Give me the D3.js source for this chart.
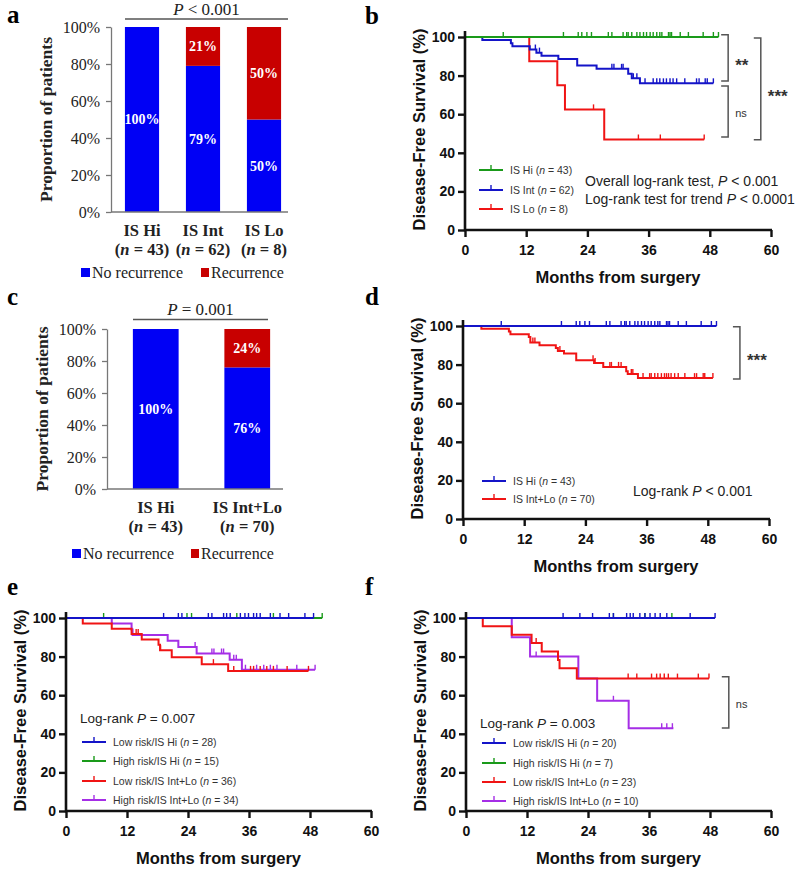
<!DOCTYPE html>
<html>
<head>
<meta charset="utf-8">
<script src="https://d3js.org/d3.v7.min.js"></script>
<style>
body { margin: 0; background: #fff; }
</style>
</head>
<body>
<svg width="800" height="869"></svg>
<script>

// ---- data: bar panels (a, c) ----
var aCats = ["IS Hi", "IS Int", "IS Lo"],
    aN = [43, 62, 8],
    aNoRec = [100, 79, 50],
    aRec = [0, 21, 50];

var cCats = ["IS Hi", "IS Int+Lo"],
    cN = [43, 70],
    cNoRec = [100, 76],
    cRec = [0, 24];

var pctTicks = [0, 20, 40, 60, 80, 100];
var monthTicks = [0, 12, 24, 36, 48, 60];
var dfsTicks = [0, 20, 40, 60, 80, 100];

// ---- data: KM curves, steps are [month, survival %] ----
// IS Hi (n = 43), same group in b and d
var hiCensor = [7.5, 19.3, 22.2, 22.9, 23.9, 24.8, 28.1, 28.8, 31.0, 31.7, 32.0, 32.7, 33.7, 34.3, 35.0, 35.6,
                36.3, 36.9, 37.6, 38.2, 38.6, 39.9, 40.2, 40.5, 42.2, 43.8, 46.7, 48.7, 49.7];
var hiEnd = 49.7;

// b: IS Int (n = 62)
var bIntSteps = [[3.4, 98.4], [9.0, 96.8], [9.3, 95.2], [12.7, 93.5], [14.0, 91.9], [15.0, 90.3], [18.3, 88.6],
                 [22.0, 85.2], [25.8, 83.5], [32.0, 80.9], [32.7, 78.6], [34.3, 76.0]];
var bIntCensor = [13.8, 14.6, 28.8, 29.2, 30.7, 31.0, 33.0, 33.7, 35.3, 36.9, 37.6, 38.2, 38.9, 39.5, 40.2,
                  40.8, 41.5, 43.1, 45.4, 45.9, 47.1, 47.5, 48.7];
var bIntEnd = 48.7;
// b: IS Lo (n = 8)
var bLoSteps = [[12.6, 87.5], [18.1, 75.0], [19.6, 62.5], [27.3, 46.9]];
var bLoCensor = [25.2, 34.0, 38.3, 46.9];
var bLoEnd = 46.9;

// d: IS Int+Lo (n = 70)
var dIntLoSteps = [[3.6, 98.6], [9.0, 97.1], [9.3, 95.7], [12.9, 94.3], [13.2, 91.4], [15.0, 90.0], [18.2, 88.6],
                   [18.6, 87.1], [19.8, 85.7], [22.2, 82.3], [25.7, 80.8], [27.5, 78.8], [32.0, 76.5], [32.3, 75.1],
                   [34.3, 73.0]];
var dIntLoCensor = [13.7, 14.1, 19.0, 25.5, 25.9, 28.8, 29.1, 30.5, 31.0, 33.0, 33.3, 35.3, 36.6, 36.9, 37.6,
                    38.2, 38.9, 39.5, 39.9, 40.3, 40.8, 41.5, 42.2, 43.5, 45.4, 45.8, 47.1, 47.4, 49.0];
var dIntLoEnd = 49.0;

// e
var eLowHiCensor = [19.2, 22.1, 22.8, 28.0, 28.7, 31.0, 31.6, 32.3, 34.3, 35.2, 35.9, 36.9, 37.5, 38.2, 40.2,
                    42.1, 43.8, 47.0, 48.7];
var eLowHiEnd = 48.7;
var eHighHiCensor = [7.4, 23.8, 24.7, 33.6, 40.8, 50.4];
var eHighHiEnd = 50.4;
var eLowIntSteps = [[3.3, 97.2], [9.0, 94.4], [12.9, 91.7], [14.9, 88.9], [18.2, 86.1], [18.5, 83.3],
                    [20.8, 79.6], [26.7, 76.1], [31.9, 72.6]];
var eLowIntCensor = [13.8, 14.2, 18.6, 29.0, 33.0, 36.3, 36.9, 38.2, 39.5, 40.8, 43.5, 47.7];
var eLowIntEnd = 47.7;
var eHighIntSteps = [[9.0, 97.1], [12.9, 94.1], [13.1, 91.2], [20.0, 88.2], [22.1, 85.0], [25.7, 81.6],
                     [32.2, 78.4], [34.6, 73.2]];
var eHighIntCensor = [25.4, 28.7, 29.1, 30.6, 31.0, 33.0, 33.5, 35.3, 37.5, 38.9, 40.2, 41.5, 45.4, 49.0];
var eHighIntEnd = 49.0;

// f
var fLowHiCensor = [19.1, 22.4, 24.9, 28.2, 29.0, 31.6, 32.3, 32.9, 34.2, 35.2, 36.2, 37.2, 38.2, 39.5,
                    44.1, 49.0];
var fLowHiEnd = 49.0;
var fHighHiCensor = [29.0, 35.2, 40.5];
var fHighHiEnd = 40.7;
var fLowIntSteps = [[3.3, 95.7], [9.0, 91.3], [12.9, 87.0], [14.9, 82.6], [18.1, 78.3], [18.4, 73.9], [21.8, 68.6]];
var fLowIntCensor = [13.8, 31.9, 33.6, 36.5, 37.5, 38.2, 39.0, 39.8, 41.6, 45.7, 47.8];
var fLowIntEnd = 47.8;
var fHighIntSteps = [[9.0, 90.0], [12.6, 80.0], [22.1, 68.6], [25.8, 57.1], [32.0, 42.9]];
var fHighIntCensor = [13.8, 29.0, 38.5, 39.5, 40.6];
var fHighIntEnd = 40.8;

var SANS = "'Liberation Sans', Arial, sans-serif",
    SERIF = "'Liberation Serif', 'Times New Roman', serif";
var BAR_BLUE = "#0000f5", BAR_RED = "#c80000";
var KM_GREEN = "#1a9a1a", KM_BLUE = "#1414c8", KM_RED = "#f01414", KM_PURPLE = "#a52ee6";

var svg = d3.select("svg");

function nText(sel, pre, n, post) {
  sel.append("tspan").text(pre);
  sel.append("tspan").attr("font-style", "italic").text("n");
  sel.append("tspan").text(" = " + n + (post || ""));
}

function panelLabel(txt, x, y) {
  svg.append("text").attr("x", x).attr("y", y)
      .attr("font-family", SERIF).attr("font-weight", "bold").attr("font-size", 25)
      .text(txt);
}

// ---------- stacked bar panel ----------
function barPanel(o) {
  var g = svg.append("g");
  var x = d3.scaleBand().domain(o.cats).range(o.xr).paddingInner(o.pad).paddingOuter(o.pad / 2);
  var y = d3.scaleLinear().domain([0, 100]).range(o.yr);
  var rows = o.cats.map(function(c, i) { return {cat: c, n: o.n[i], no: o.noRec[i], rec: o.rec[i]}; });

  g.selectAll(".no").data(rows).join("rect")
      .attr("x", function(d) { return x(d.cat); })
      .attr("width", x.bandwidth())
      .attr("y", function(d) { return y(d.no); })
      .attr("height", function(d) { return y(0) - y(d.no); })
      .attr("fill", BAR_BLUE);
  g.selectAll(".rec").data(rows.filter(function(d) { return d.rec > 0; })).join("rect")
      .attr("x", function(d) { return x(d.cat); })
      .attr("width", x.bandwidth())
      .attr("y", function(d) { return y(d.no + d.rec); })
      .attr("height", function(d) { return y(d.no) - y(d.no + d.rec); })
      .attr("fill", BAR_RED);

  // value labels in the middle of each segment
  var lab = g.append("g").attr("font-family", SERIF).attr("font-weight", "bold")
      .attr("font-size", 14).attr("fill", "#fff").attr("text-anchor", "middle");
  lab.selectAll(".nl").data(rows).join("text")
      .attr("x", function(d) { return x(d.cat) + x.bandwidth() / 2; })
      .attr("y", function(d) { return y(d.no / 2); })
      .attr("dy", "0.35em")
      .text(function(d) { return d.no + "%"; });
  lab.selectAll(".rl").data(rows.filter(function(d) { return d.rec > 0; })).join("text")
      .attr("x", function(d) { return x(d.cat) + x.bandwidth() / 2; })
      .attr("y", function(d) { return y(d.no + d.rec / 2); })
      .attr("dy", "0.35em")
      .text(function(d) { return d.rec + "%"; });

  var ya = g.append("g").attr("transform", "translate(" + o.axisX + ",0)")
      .call(d3.axisLeft(y).tickValues(pctTicks).tickFormat(function(d) { return d + "%"; })
        .tickSize(5).tickSizeOuter(0).tickPadding(6));
  ya.select(".domain").attr("stroke", "#777").attr("stroke-width", 1.3);
  ya.selectAll(".tick line").attr("stroke", "#777").attr("stroke-width", 1.3);
  ya.selectAll("text").attr("font-family", SERIF).attr("font-size", 16).attr("fill", "#222");

  g.append("line").attr("x1", o.axisX).attr("x2", o.baseEnd)
      .attr("y1", y(0)).attr("y2", y(0)).attr("stroke", "#777").attr("stroke-width", 1.5);

  // category labels
  var cl = g.append("g").attr("font-family", SERIF).attr("font-weight", "bold")
      .attr("font-size", 16.5).attr("fill", "#222").attr("text-anchor", "middle");
  rows.forEach(function(d) {
    var cx = x(d.cat) + x.bandwidth() / 2;
    cl.append("text").attr("x", cx).attr("y", y(0) + 24).text(d.cat);
    nText(cl.append("text").attr("x", cx).attr("y", y(0) + 43), "(", d.n, ")");
  });

  g.append("text").attr("transform", "translate(" + o.titleX + "," + ((o.yr[0] + o.yr[1]) / 2) + ") rotate(-90)")
      .attr("text-anchor", "middle").attr("font-family", SERIF).attr("font-weight", "bold")
      .attr("font-size", 17.5).attr("fill", "#222").text("Proportion of patients");

  // p value
  var pt = g.append("text").attr("x", (o.pLine[0] + o.pLine[1]) / 2).attr("y", o.pY)
      .attr("text-anchor", "middle").attr("font-family", SERIF).attr("font-size", 17).attr("fill", "#222");
  pt.append("tspan").attr("font-style", "italic").text("P");
  pt.append("tspan").text(o.pText);
  g.append("line").attr("x1", o.pLine[0]).attr("x2", o.pLine[1])
      .attr("y1", o.pY + 4.5).attr("y2", o.pY + 4.5).attr("stroke", "#555").attr("stroke-width", 1.5);

  // legend
  var lg = g.append("g").attr("font-family", SERIF).attr("font-size", 16).attr("fill", "#222");
  lg.append("rect").attr("x", o.legX[0]).attr("y", o.legY - 5).attr("width", 9).attr("height", 9).attr("fill", BAR_BLUE);
  lg.append("text").attr("x", o.legX[0] + 11).attr("y", o.legY + 5).text("No recurrence");
  lg.append("rect").attr("x", o.legX[1]).attr("y", o.legY - 5).attr("width", 8).attr("height", 9).attr("fill", BAR_RED);
  lg.append("text").attr("x", o.legX[1] + 10).attr("y", o.legY + 5).text("Recurrence");
}

// ---------- Kaplan-Meier panel ----------
function survAt(steps, t) {
  var s = 100;
  steps.forEach(function(p) { if (p[0] <= t) s = p[1]; });
  return s;
}

function kmPanel(o) {
  var g = svg.append("g");
  var x = d3.scaleLinear().domain([0, 60]).range(o.xr);
  var y = d3.scaleLinear().domain([0, 100]).range(o.yr);
  var line = d3.line().x(function(d) { return x(d[0]); }).y(function(d) { return y(d[1]); })
      .curve(d3.curveStepAfter);

  o.groups.forEach(function(grp) {
    var steps = grp.steps || [];
    var last = steps.length ? steps[steps.length - 1][1] : 100;
    var pts = [[0, 100]].concat(steps).concat([[grp.end, last]]);
    g.append("path").datum(pts).attr("d", line)
        .attr("fill", "none").attr("stroke", grp.color).attr("stroke-width", 2);
    g.selectAll(null).data(grp.censor).join("line")
        .attr("x1", function(c) { return x(c); }).attr("x2", function(c) { return x(c); })
        .attr("y1", function(c) { return y(survAt(steps, c)); })
        .attr("y2", function(c) { return y(survAt(steps, c)) - 5; })
        .attr("stroke", grp.color).attr("stroke-width", 1.4);
  });

  // axes
  var xa = g.append("g").attr("transform", "translate(0," + y(0) + ")")
      .call(d3.axisBottom(x).tickValues(monthTicks).tickSize(7).tickSizeOuter(0).tickPadding(8));
  var ya = g.append("g").attr("transform", "translate(" + x(0) + ",0)")
      .call(d3.axisLeft(y).tickValues(dfsTicks).tickSize(7).tickSizeOuter(0).tickPadding(3));
  [xa, ya].forEach(function(a) {
    a.select(".domain").remove();
    a.selectAll(".tick line").attr("stroke", "#111").attr("stroke-width", 2.4);
    a.selectAll("text").attr("font-family", SANS).attr("font-weight", "bold")
        .attr("font-size", 14).attr("fill", "#111");
  });
  g.append("path")
      .attr("d", "M" + x(0) + "," + (y(100) - 6) + "V" + y(0) + "H" + (x(60) + 1))
      .attr("fill", "none").attr("stroke", "#111").attr("stroke-width", 2.6);

  g.append("text").attr("x", (o.xr[0] + o.xr[1]) / 2).attr("y", y(0) + 53)
      .attr("text-anchor", "middle").attr("font-family", SANS).attr("font-weight", "bold")
      .attr("font-size", 16.5).attr("fill", "#111").text("Months from surgery");
  g.append("text").attr("transform", "translate(" + (x(0) - 46) + "," + ((o.yr[0] + o.yr[1]) / 2 - 4) + ") rotate(-90)")
      .attr("text-anchor", "middle").attr("dy", "0.35em").attr("font-family", SANS).attr("font-weight", "bold")
      .attr("font-size", 16.5).attr("fill", "#111").text("Disease-Free Survival (%)");

  // legend
  var lg = g.append("g").attr("font-family", SANS).attr("font-size", 10.5).attr("fill", "#333");
  o.groups.slice().sort(function(a, b) { return a.order - b.order; }).forEach(function(grp, i) {
    var ly = o.legY[i];
    lg.append("line").attr("x1", o.legX).attr("x2", o.legX + 24).attr("y1", ly).attr("y2", ly)
        .attr("stroke", grp.color).attr("stroke-width", 2);
    lg.append("line").attr("x1", o.legX + 12).attr("x2", o.legX + 12).attr("y1", ly).attr("y2", ly - 5)
        .attr("stroke", grp.color).attr("stroke-width", 1.4);
    nText(lg.append("text").attr("x", o.legX + 31).attr("y", ly + 4), grp.name + " (", grp.n, ")");
  });

  // stats text
  o.stats.forEach(function(s) {
    var t = g.append("text").attr("x", s.x).attr("y", s.y).attr("font-family", SANS)
        .attr("font-size", s.size).attr("fill", "#222");
    t.append("tspan").text(s.pre);
    t.append("tspan").attr("font-style", "italic").text("P");
    t.append("tspan").text(s.post);
  });

  // significance brackets
  (o.brackets || []).forEach(function(b) {
    var X = x(b.m), Y1 = y(b.s1), Y2 = y(b.s2);
    g.append("path").attr("d", "M" + (X - 7) + "," + Y1 + "H" + X + "V" + Y2 + "H" + (X - 7))
        .attr("fill", "none").attr("stroke", "#555").attr("stroke-width", 1.5);
    var star = b.label !== "ns";
    g.append("text").attr("x", X + 7).attr("y", (Y1 + Y2) / 2 + 3 + (star ? 10 : 3))
        .attr("font-family", SANS).attr("font-weight", star ? "bold" : "normal")
        .attr("font-size", star ? 17 : 11).attr("fill", "#333").text(b.label);
  });
}

// ---------- panels ----------
panelLabel("a", 7, 23);
barPanel({cats: aCats, n: aN, noRec: aNoRec, rec: aRec, xr: [111.5, 294.5], pad: 0.44,
  yr: [212, 27], axisX: 111, baseEnd: 288, titleX: 52,
  pLine: [125, 288], pY: 14.5, pText: " < 0.001", legX: [81, 201], legY: 273});

panelLabel("b", 365, 24);
kmPanel({xr: [465, 771], yr: [230, 37],
  groups: [
    {name: "IS Lo", n: 8, color: KM_RED, steps: bLoSteps, censor: bLoCensor, end: bLoEnd, order: 3},
    {name: "IS Int", n: 62, color: KM_BLUE, steps: bIntSteps, censor: bIntCensor, end: bIntEnd, order: 2},
    {name: "IS Hi", n: 43, color: KM_GREEN, steps: [], censor: hiCensor, end: hiEnd, order: 1}
  ],
  legX: 479, legY: [170, 190, 209],
  stats: [
    {x: 585, y: 186, size: 14, pre: "Overall log-rank test,  ", post: " < 0.001"},
    {x: 585, y: 204, size: 14, pre: "Log-rank test for trend ", post: " < 0.0001"}
  ],
  brackets: [
    {m: 51.6, s1: 101.2, s2: 77.2, label: "**"},
    {m: 51.6, s1: 74.6, s2: 48.2, label: "ns"},
    {m: 58.0, s1: 99.5, s2: 46.8, label: "***"}
  ]});

panelLabel("c", 7, 305);
barPanel({cats: cCats, n: cN, noRec: cNoRec, rec: cRec, xr: [110, 293], pad: 0.5,
  yr: [489, 329], axisX: 107, baseEnd: 283, titleX: 48,
  pLine: [133, 268], pY: 315, pText: " = 0.001", legX: [72, 191], legY: 554});

panelLabel("d", 365, 305);
kmPanel({xr: [463, 769], yr: [519, 326],
  groups: [
    {name: "IS Int+Lo", n: 70, color: KM_RED, steps: dIntLoSteps, censor: dIntLoCensor, end: dIntLoEnd, order: 2},
    {name: "IS Hi", n: 43, color: KM_BLUE, steps: [], censor: hiCensor, end: hiEnd, order: 1}
  ],
  legX: 482, legY: [481, 499],
  stats: [{x: 633, y: 496, size: 14, pre: "Log-rank ", post: " < 0.001"}],
  brackets: [{m: 54.3, s1: 99.6, s2: 72.5, label: "***"}]});

panelLabel("e", 7, 595);
kmPanel({xr: [66, 371], yr: [811, 618],
  groups: [
    {name: "High risk/IS Int+Lo", n: 34, color: KM_PURPLE, steps: eHighIntSteps, censor: eHighIntCensor, end: eHighIntEnd, order: 4},
    {name: "Low risk/IS Int+Lo", n: 36, color: KM_RED, steps: eLowIntSteps, censor: eLowIntCensor, end: eLowIntEnd, order: 3},
    {name: "High risk/IS Hi", n: 15, color: KM_GREEN, steps: [], censor: eHighHiCensor, end: eHighHiEnd, order: 2},
    {name: "Low risk/IS Hi", n: 28, color: KM_BLUE, steps: [], censor: eLowHiCensor, end: eLowHiEnd, order: 1}
  ],
  legX: 82, legY: [742, 761, 781, 800],
  stats: [{x: 80, y: 723, size: 13.5, pre: "Log-rank ", post: " = 0.007"}]});

panelLabel("f", 365, 595);
kmPanel({xr: [466, 771], yr: [811, 618],
  groups: [
    {name: "High risk/IS Int+Lo", n: 10, color: KM_PURPLE, steps: fHighIntSteps, censor: fHighIntCensor, end: fHighIntEnd, order: 4},
    {name: "Low risk/IS Int+Lo", n: 23, color: KM_RED, steps: fLowIntSteps, censor: fLowIntCensor, end: fLowIntEnd, order: 3},
    {name: "High risk/IS Hi", n: 7, color: KM_GREEN, steps: [], censor: fHighHiCensor, end: fHighHiEnd, order: 2},
    {name: "Low risk/IS Hi", n: 20, color: KM_BLUE, steps: [], censor: fLowHiCensor, end: fLowHiEnd, order: 1}
  ],
  legX: 482, legY: [743, 763, 782, 801],
  stats: [{x: 480, y: 728, size: 13.5, pre: "Log-rank ", post: " = 0.003"}],
  brackets: [{m: 51.7, s1: 69.6, s2: 43.0, label: "ns"}]});

</script>
</body>
</html>
